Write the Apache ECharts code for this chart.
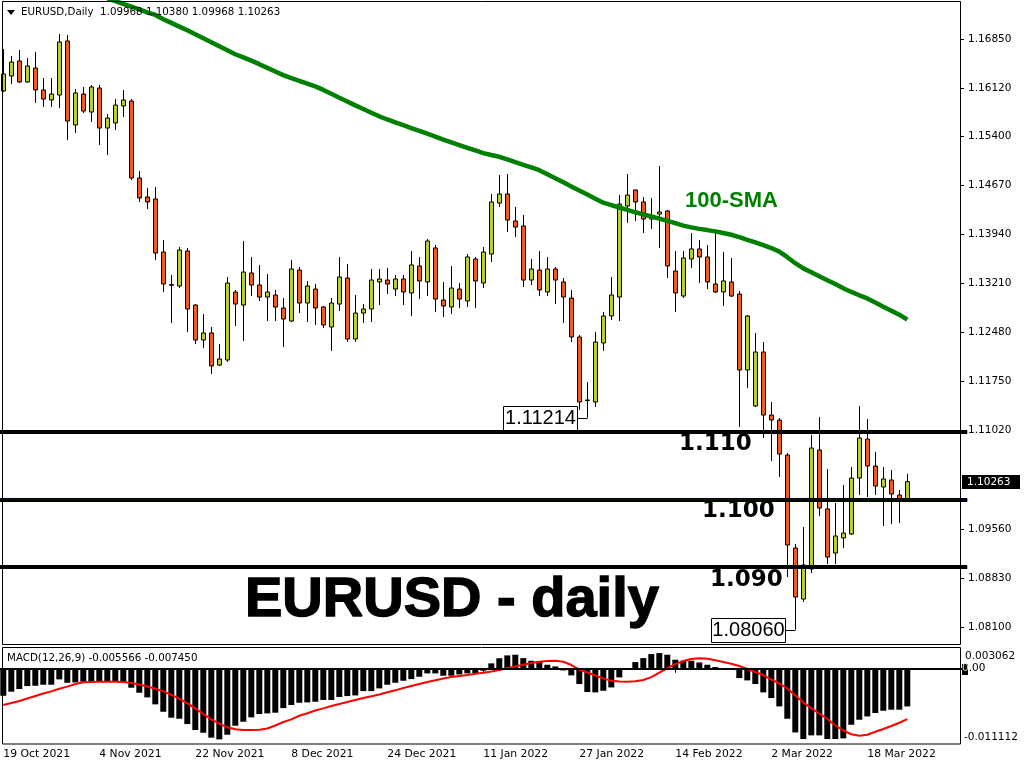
<!DOCTYPE html>
<html><head><meta charset="utf-8">
<script src="https://cdn.jsdelivr.net/npm/echarts@6/dist/echarts.min.js"></script>
<style>html,body{margin:0;padding:0;background:#fff}#c{width:1024px;height:768px}</style>
</head><body><div id="c"></div><script>
const dates = [
'19 Oct 2021','20 Oct 2021','21 Oct 2021','22 Oct 2021','25 Oct 2021','26 Oct 2021','27 Oct 2021','28 Oct 2021','29 Oct 2021',
'1 Nov 2021','2 Nov 2021','3 Nov 2021','4 Nov 2021','5 Nov 2021','8 Nov 2021','9 Nov 2021','10 Nov 2021','11 Nov 2021','12 Nov 2021','15 Nov 2021','16 Nov 2021','17 Nov 2021','18 Nov 2021','19 Nov 2021','22 Nov 2021','23 Nov 2021','24 Nov 2021','25 Nov 2021','26 Nov 2021','29 Nov 2021','30 Nov 2021',
'1 Dec 2021','2 Dec 2021','3 Dec 2021','6 Dec 2021','7 Dec 2021','8 Dec 2021','9 Dec 2021','10 Dec 2021','13 Dec 2021','14 Dec 2021','15 Dec 2021','16 Dec 2021','17 Dec 2021','20 Dec 2021','21 Dec 2021','22 Dec 2021','23 Dec 2021','24 Dec 2021','27 Dec 2021','28 Dec 2021','29 Dec 2021','30 Dec 2021','31 Dec 2021',
'3 Jan 2022','4 Jan 2022','5 Jan 2022','6 Jan 2022','7 Jan 2022','10 Jan 2022','11 Jan 2022','12 Jan 2022','13 Jan 2022','14 Jan 2022','17 Jan 2022','18 Jan 2022','19 Jan 2022','20 Jan 2022','21 Jan 2022','24 Jan 2022','25 Jan 2022','26 Jan 2022','27 Jan 2022','28 Jan 2022','31 Jan 2022',
'1 Feb 2022','2 Feb 2022','3 Feb 2022','4 Feb 2022','7 Feb 2022','8 Feb 2022','9 Feb 2022','10 Feb 2022','11 Feb 2022','14 Feb 2022','15 Feb 2022','16 Feb 2022','17 Feb 2022','18 Feb 2022','21 Feb 2022','22 Feb 2022','23 Feb 2022','24 Feb 2022','25 Feb 2022','28 Feb 2022',
'1 Mar 2022','2 Mar 2022','3 Mar 2022','4 Mar 2022','7 Mar 2022','8 Mar 2022','9 Mar 2022','10 Mar 2022','11 Mar 2022','14 Mar 2022','15 Mar 2022','16 Mar 2022','17 Mar 2022','18 Mar 2022','21 Mar 2022','22 Mar 2022','23 Mar 2022','24 Mar 2022','25 Mar 2022'];

const dateTicks = ['19 Oct 2021','4 Nov 2021','22 Nov 2021','8 Dec 2021','24 Dec 2021','11 Jan 2022','27 Jan 2022','14 Feb 2022','2 Mar 2022','18 Mar 2022'];

const opens = [1.16076,1.16299,1.16522,1.16210,1.16418,1.16091,1.15942,1.16016,1.16820,1.15570,
1.16031,1.15763,1.16120,1.15525,1.15600,1.15853,1.15927,1.14781,1.14498,1.14469,
1.13680,1.13195,1.13174,1.13695,1.12891,1.12370,1.12475,1.11998,1.12073,1.13085,
1.12891,1.13368,1.13189,1.13010,1.13040,1.12847,1.12653,1.13412,1.12921,1.13129,
1.12862,1.12564,1.12906,1.13293,1.12385,1.12772,1.12832,1.13234,1.13263,1.13129,
1.13278,1.13070,1.13472,1.13234,1.13740,1.12966,1.12862,1.13129,1.12951,1.13576,
1.13219,1.13650,1.14409,1.14543,1.14141,1.14067,1.13263,1.13412,1.13085,1.13427,
1.13234,1.12995,1.12415,1.11478,1.11448,1.12326,1.12728,1.13010,1.14365,1.14603,
1.14424,1.14171,1.14245,1.14290,1.13397,1.13025,1.13576,1.13725,1.13606,1.13204,
1.13085,1.13234,1.13055,1.11924,1.11388,1.12192,1.11254,1.11180,1.10659,1.09275,
1.08516,1.08963,1.10734,1.09856,1.09201,1.09424,1.09484,1.10317,1.10897,1.10495,
1.10183,1.10287,1.10064,1.09968];

const closes = [1.16329,1.16507,1.16210,1.16448,1.16091,1.15957,1.16031,1.16805,1.15629,1.16046,
1.15778,1.16135,1.15525,1.15674,1.15867,1.15942,1.14781,1.14484,1.14424,1.13665,
1.13204,1.13185,1.13710,1.12832,1.12370,1.12475,1.11984,1.12088,1.13219,1.12906,
1.13382,1.13189,1.13010,1.13085,1.12862,1.12683,1.13427,1.12921,1.13174,1.12847,
1.12594,1.12921,1.13308,1.12385,1.12772,1.12832,1.13263,1.13278,1.13204,1.13278,
1.13085,1.13487,1.13249,1.13844,1.12981,1.12876,1.13144,1.12981,1.13606,1.13249,
1.13680,1.14424,1.14543,1.14156,1.14052,1.13263,1.13427,1.13115,1.13427,1.13263,
1.13010,1.12415,1.11448,1.11470,1.12341,1.12728,1.13040,1.14394,1.14528,1.14424,
1.14171,1.14201,1.14275,1.13472,1.13070,1.13591,1.13725,1.13606,1.13234,1.13085,
1.13249,1.13025,1.11924,1.12728,1.12192,1.11254,1.11180,1.10674,1.09320,1.08546,
1.09022,1.10763,1.09870,1.09141,1.09454,1.09498,1.10317,1.10912,1.10495,1.10198,
1.10302,1.10079,1.09968,1.10263];

const lows = [1.16060,1.16180,1.16195,1.16200,1.15897,1.15838,1.15838,1.15823,1.15347,1.15451,
1.15748,1.15615,1.15272,1.15123,1.15495,1.15689,1.14751,1.14424,1.14320,1.13561,
1.13085,1.12623,1.13144,1.12489,1.12311,1.12251,1.11865,1.11984,1.12043,1.12579,
1.12356,1.13025,1.12951,1.12653,1.12653,1.12266,1.12638,1.12772,1.12638,1.12594,
1.12549,1.12207,1.12802,1.12341,1.12341,1.12623,1.12638,1.12891,1.13055,1.13025,
1.12891,1.12728,1.12981,1.13025,1.12787,1.12713,1.12757,1.12847,1.12862,1.12847,
1.13144,1.13531,1.14350,1.13978,1.13903,1.13159,1.13189,1.13025,1.13025,1.12906,
1.12623,1.12341,1.11329,1.11214,1.11373,1.12207,1.12668,1.12653,1.14112,1.14141,
1.13963,1.14022,1.13740,1.13293,1.12787,1.12995,1.13442,1.13219,1.13129,1.13070,
1.12876,1.13010,1.11076,1.11656,1.11373,1.10912,1.10570,1.10332,1.08844,1.08060,
1.08472,1.08903,1.09751,1.09037,1.09037,1.09275,1.09469,1.10064,1.10034,1.10064,
1.09603,1.09632,1.09647,1.09968];

const highs = [1.16701,1.16597,1.16686,1.16567,1.16656,1.16269,1.16269,1.16924,1.16909,1.16106,
1.16135,1.16165,1.16165,1.15734,1.15957,1.16091,1.15957,1.14885,1.14632,1.14647,
1.13859,1.13338,1.13754,1.13740,1.12906,1.12757,1.12564,1.12311,1.13308,1.13115,
1.13844,1.13606,1.13487,1.13353,1.13115,1.12995,1.13561,1.13457,1.13249,1.13204,
1.12876,1.12995,1.13606,1.13501,1.13040,1.12906,1.13427,1.13427,1.13442,1.13338,
1.13338,1.13695,1.13606,1.13873,1.13784,1.13234,1.13472,1.13219,1.13650,1.13606,
1.13754,1.14543,1.14826,1.14841,1.14350,1.14231,1.13576,1.13695,1.13606,1.13457,
1.13293,1.13115,1.12445,1.11745,1.12489,1.12787,1.13308,1.14528,1.14841,1.14610,
1.14498,1.14484,1.14960,1.14305,1.13695,1.13695,1.13963,1.13859,1.13784,1.13978,
1.13680,1.13591,1.13100,1.12742,1.12475,1.12341,1.11448,1.11210,1.10689,1.09335,
1.09588,1.10957,1.11225,1.10451,1.09945,1.10213,1.10481,1.11388,1.11195,1.10704,
1.10481,1.10436,1.10138,1.10380];

const sma100 = [null,null,null,null,null,null,null,null,null,null,null,null,null,
1.17455,1.17415,1.17373,1.17332,1.17289,1.17247,1.17207,1.17143,1.17089,1.17034,
1.16979,1.16920,1.16862,1.16802,1.16743,1.16683,1.16623,1.16577,1.16528,1.16475,
1.16420,1.16366,1.16312,1.16269,1.16228,1.16186,1.16144,1.16092,1.16034,1.15976,
1.15920,1.15862,1.15808,1.15753,1.15699,1.15652,1.15610,1.15567,1.15525,1.15484,
1.15440,1.15397,1.15353,1.15311,1.15271,1.15231,1.15192,1.15152,1.15123,1.15097,
1.15058,1.15018,1.14978,1.14939,1.14897,1.14838,1.14778,1.14719,1.14656,1.14594,
1.14534,1.14473,1.14414,1.14378,1.14342,1.14306,1.14271,1.14240,1.14208,1.14176,
1.14144,1.14109,1.14073,1.14046,1.14024,1.14006,1.13987,1.13963,1.13937,1.13902,
1.13862,1.13823,1.13781,1.13739,1.13686,1.13603,1.13513,1.13436,1.13379,1.13320,
1.13260,1.13204,1.13141,1.13086,1.13036,1.12989,1.12927,1.12865,1.12807,1.12747,
1.12673];

const macdHist = [-0.00399,-0.00339,-0.00300,-0.00256,-0.00251,-0.00236,-0.00236,-0.00157,-0.00207,-0.00202,
-0.00192,-0.00192,-0.00192,-0.00192,-0.00197,-0.00197,-0.00280,-0.00354,-0.00423,-0.00526,
-0.00635,-0.00723,-0.00738,-0.00817,-0.00905,-0.00945,-0.01018,-0.01043,-0.00974,-0.00841,
-0.00782,-0.00718,-0.00669,-0.00659,-0.00649,-0.00581,-0.00536,-0.00502,-0.00497,-0.00487,
-0.00462,-0.00462,-0.00418,-0.00403,-0.00394,-0.00330,-0.00330,-0.00290,-0.00236,-0.00207,
-0.00177,-0.00153,-0.00118,-0.00069,-0.00069,-0.00103,-0.00103,-0.00084,-0.00069,-0.00069,
-0.00030,0.00079,0.00155,0.00197,0.00207,0.00157,0.00118,0.00108,0.00059,0.00034,
-0.00025,-0.00098,-0.00226,-0.00344,-0.00349,-0.00325,-0.00276,-0.00128,0.00005,0.00098,
0.00157,0.00216,0.00231,0.00207,0.00133,0.00118,0.00118,0.00093,0.00059,0.00025,
0.00005,-0.00015,-0.00138,-0.00172,-0.00226,-0.00349,-0.00433,-0.00556,-0.00738,-0.00940,
-0.01038,-0.00984,-0.00984,-0.01038,-0.01038,-0.01028,-0.00827,-0.00753,-0.00704,-0.00654,
-0.00620,-0.00605,-0.00605,-0.005566];

const macdSignal = [-0.00536,-0.00506,-0.00477,-0.00440,-0.00403,-0.00366,-0.00334,-0.00295,-0.00264,-0.00226,
-0.00201,-0.00196,-0.00192,-0.00192,-0.00193,-0.00196,-0.00211,-0.00233,-0.00263,-0.00295,
-0.00334,-0.00385,-0.00440,-0.00511,-0.00585,-0.00669,-0.00747,-0.00809,-0.00865,-0.00894,
-0.00905,-0.00905,-0.00900,-0.00883,-0.00838,-0.00787,-0.00747,-0.00694,-0.00658,-0.00617,
-0.00585,-0.00551,-0.00521,-0.00492,-0.00462,-0.00432,-0.00407,-0.00381,-0.00348,-0.00319,
-0.00285,-0.00255,-0.00226,-0.00196,-0.00171,-0.00145,-0.00123,-0.00108,-0.00093,-0.00074,
-0.00059,-0.00040,-0.00019,0.00010,0.00035,0.00059,0.00084,0.00102,0.00114,0.00117,
0.00103,0.00055,-0.00012,-0.00056,-0.00100,-0.00142,-0.00179,-0.00189,-0.00192,-0.00185,
-0.00167,-0.00123,-0.00056,0.00010,0.00069,0.00114,0.00143,0.00154,0.00146,0.00124,
0.00099,0.00074,0.00040,-0.00004,-0.00049,-0.00093,-0.00159,-0.00218,-0.00292,-0.00396,
-0.00496,-0.00585,-0.00661,-0.00742,-0.00838,-0.00912,-0.00967,-0.00989,-0.00974,-0.00931,
-0.00890,-0.00846,-0.00797,-0.00745];

const priceTicks = [1.16850,1.16120,1.15400,1.14670,1.13940,1.13210,1.12480,1.11750,1.11020,1.09560,1.08830,1.08100];
const macdTicks = [0.003062, 0, -0.011112];
const levels = [1.110, 1.100, 1.090];
const levelLabels = ['1.110', '1.100', '1.090'];
const notes = [{idx: 73, value: 1.11214}, {idx: 99, value: 1.08060}];

const UP = '#b7d12c', DOWN = '#f25a1e', FONT = 'DejaVu Sans';
const last = dates.length - 1;
const cats = dates.concat(['p1','p2','p3','p4','p5','p6','p7']);
const candles = dates.map((d, i) => [opens[i], closes[i], lows[i], highs[i]]);
const tickSet = new Set(dateTicks);
const showTick = (i, name) => tickSet.has(name);

const chart = echarts.init(document.getElementById('c'), null, {renderer: 'canvas'});
chart.setOption({
  animation: false,
  backgroundColor: '#fff',
  textStyle: {fontFamily: FONT},
  grid: [
    {left: -0.7, top: 0, width: 968, height: 645, outerBoundsMode: 'none', containLabel: false},
    {left: -0.7, top: 648, width: 968, height: 96, outerBoundsMode: 'none', containLabel: false}
  ],
  xAxis: [
    {type: 'category', gridIndex: 0, data: cats, boundaryGap: true,
     axisLine: {show: false}, axisTick: {show: false}, axisLabel: {show: false}, splitLine: {show: false}},
    {type: 'category', gridIndex: 1, data: cats, boundaryGap: true,
     axisLine: {show: false},
     axisTick: {show: true, alignWithLabel: true, interval: showTick, length: 4, lineStyle: {color: '#000', width: 1}},
     axisLabel: {interval: showTick, align: 'left', margin: 5, color: '#000', fontFamily: FONT, fontSize: 10.8},
     splitLine: {show: false}}
  ],
  yAxis: [
    {type: 'value', gridIndex: 0, position: 'right', offset: -6.3, min: 1.07832, max: 1.17430,
     splitLine: {show: false}, axisLine: {show: false},
     axisTick: {show: true, inside: false, length: 3, customValues: priceTicks, lineStyle: {color: '#000'}},
     axisLabel: {customValues: priceTicks, formatter: v => v.toFixed(5), margin: 7, color: '#000',
                 fontFamily: FONT, fontSize: 10.5, showMinLabel: true, showMaxLabel: true}},
    {type: 'value', gridIndex: 1, position: 'right', offset: -6.3, min: -0.011112, max: 0.003062,
     splitLine: {show: false}, axisLine: {show: false}, axisTick: {show: false}, axisLabel: {show: false}}
  ],
  series: [
    {type: 'candlestick', xAxisIndex: 0, yAxisIndex: 0, data: candles, barWidth: 4, z: 2,
     itemStyle: {color: UP, color0: DOWN, borderColor: '#000', borderColor0: '#000', borderColorDoji: '#000', borderWidth: 1},
     markLine: {silent: true, symbol: ['none', 'none'], animation: false, label: {show: false},
       data: levels.map(v => ({yAxis: v, lineStyle: {color: '#000', width: 4, type: 'solid'}}))
         .concat([{yAxis: closes[last], lineStyle: {color: '#000080', width: 1, type: 'solid'}}])}},
    {type: 'line', xAxisIndex: 0, yAxisIndex: 0, data: sma100, symbol: 'none', z: 3,
     lineStyle: {color: '#008000', width: 4.5}},
    {type: 'bar', xAxisIndex: 1, yAxisIndex: 1, data: macdHist, barWidth: 6, itemStyle: {color: '#000'},
     markLine: {silent: true, symbol: ['none', 'none'], animation: false, label: {show: false},
       data: [{yAxis: 0}], lineStyle: {color: '#000', width: 2, type: 'solid'}}},
    {type: 'line', xAxisIndex: 1, yAxisIndex: 1, data: macdSignal, symbol: 'none', z: 3,
     lineStyle: {color: '#ff0000', width: 2}}
  ]
});

const px = (i, v) => chart.convertToPixel({xAxisIndex: 0, yAxisIndex: 0}, [i, v]);
const mpy = v => chart.convertToPixel({xAxisIndex: 1, yAxisIndex: 1}, [0, v])[1];
const g = [];
// panel frames
g.push({type: 'rect', z: 100, silent: true, shape: {x: 2.5, y: 1.5, width: 958, height: 643}, style: {fill: 'none', stroke: '#000', lineWidth: 1}});
g.push({type: 'rect', z: 100, silent: true, shape: {x: 2.5, y: 647.5, width: 958, height: 96.5}, style: {fill: 'none', stroke: '#000', lineWidth: 1}});
// header
g.push({type: 'polygon', z: 101, shape: {points: [[7, 10], [15, 10], [11, 15]]}, style: {fill: '#000'}});
g.push({type: 'text', z: 101, x: 21, y: 12.5, style: {
  text: 'EURUSD,Daily  ' + [opens[last], highs[last], lows[last], closes[last]].map(v => v.toFixed(5)).join(' '),
  fontFamily: FONT, fontSize: 10.3, fill: '#000', verticalAlign: 'middle', align: 'left'}});
g.push({type: 'text', z: 101, x: 7, y: 658, style: {
  text: 'MACD(12,26,9) ' + macdHist[last].toFixed(6) + ' ' + macdSignal[last].toFixed(6),
  fontFamily: FONT, fontSize: 10.3, fill: '#000', verticalAlign: 'middle', align: 'left'}});
// MACD scale labels (min / zero / max of the indicator window)
const macdLabelX = [965, 962, 964], macdLabelDy = [8, 0, -7];
macdTicks.forEach((v, k) => {
  const y = mpy(v) + macdLabelDy[k];
  if (v === 0) {
    g.push({type: 'rect', z: 101, shape: {x: 962, y: Math.round(y) - 5, width: 6, height: 11}, style: {fill: '#000'}});
    g.push({type: 'text', z: 102, x: macdLabelX[k], y: y, style: {text: '{k|0}.00',
      rich: {k: {fill: '#e9dcae', fontFamily: FONT, fontSize: 10.5}},
      fontFamily: FONT, fontSize: 10.5, fill: '#000', verticalAlign: 'middle', align: 'left'}});
  } else {
    g.push({type: 'text', z: 101, x: macdLabelX[k], y: y, style: {text: v.toFixed(6), fontFamily: FONT,
      fontSize: 10.5, fill: '#000', verticalAlign: 'middle', align: 'left'}});
  }
});
// level labels
const levelX = [679, 702, 710], levelDy = [11.5, 11.5, 14];
levels.forEach((v, k) => {
  const y = px(0, v)[1];
  g.push({type: 'text', z: 101, x: levelX[k], y: y + levelDy[k], style: {
    text: levelLabels[k], fontFamily: FONT, fontWeight: 'bold', fontSize: 23, fill: '#000',
    verticalAlign: 'middle', align: 'left'}});
});
// SMA label & title
g.push({type: 'text', z: 101, x: 685, y: 201, style: {text: '100-SMA', fontFamily: 'Liberation Sans', fontWeight: 'bold',
  fontSize: 22, fill: '#008000', verticalAlign: 'middle', align: 'left'}});
g.push({type: 'text', z: 101, x: 245, y: 601, style: {text: 'EURUSD - daily', fontFamily: 'Liberation Sans', fontWeight: 'bold',
  fontSize: 56, fill: '#000', stroke: '#000', lineWidth: 1.4, verticalAlign: 'middle', align: 'left'}});
// low annotations
notes.forEach(n => {
  const p = px(n.idx, n.value);
  const right = Math.round(p[0]) - 9.5, cy = Math.round(p[1]) + 0.5;
  g.push({type: 'line', z: 101, shape: {x1: right, y1: cy, x2: Math.round(p[0]) + 0.5, y2: cy}, style: {stroke: '#000', lineWidth: 1}});
  g.push({type: 'rect', z: 101, shape: {x: right - 74, y: cy - 12, width: 74, height: 24}, style: {fill: '#fff', stroke: '#000', lineWidth: 1}});
  g.push({type: 'text', z: 102, x: right - 37, y: cy, style: {text: n.value.toFixed(5), fontFamily: 'Liberation Sans',
    fontSize: 20, fill: '#000', verticalAlign: 'middle', align: 'center'}});
});
// current price tag
const cpy = px(last, closes[last])[1];
g.push({type: 'rect', z: 101, shape: {x: 962, y: Math.round(cpy) - 7, width: 58, height: 14}, style: {fill: '#000'}});
g.push({type: 'text', z: 102, x: 967, y: Math.round(cpy), style: {text: closes[last].toFixed(5), fontFamily: FONT,
  fontSize: 10.5, fill: '#fff', verticalAlign: 'middle', align: 'left'}});
chart.setOption({graphic: g});
</script></body></html>
